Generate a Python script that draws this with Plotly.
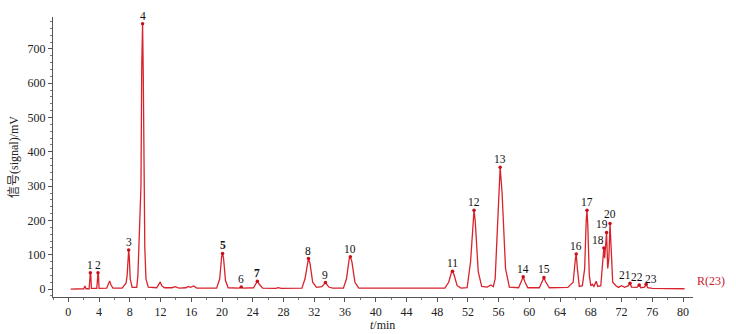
import plotly.graph_objects as go

# Chromatogram trace points (time in min, signal in mV)
time_min = [
    0.3, 2.0, 2.15, 2.3, 2.7, 2.8, 2.86, 2.92, 3.0, 3.7, 3.8, 3.86, 3.92, 4.0,
    5.0, 5.2, 5.37, 5.55, 5.8, 7.0, 7.3, 7.5, 7.65, 7.78, 7.85, 7.93, 8.05, 8.3,
    8.9, 9.05, 9.2, 9.36, 9.45, 9.55, 9.66, 9.75, 9.85, 9.95, 10.1, 10.4,
    11.5, 11.8, 11.96, 12.15, 12.5, 13.5, 13.9, 14.4, 15.3, 15.6, 15.9, 16.3, 16.7,
    19.3, 19.7, 19.95, 20.07, 20.2, 20.45, 20.8, 22.2, 22.5, 22.8,
    24.1, 24.4, 24.6, 24.85, 25.3, 27.0, 27.3, 27.7,
    30.4, 30.8, 31.1, 31.25, 31.45, 31.8, 32.3, 33.0, 33.46, 33.9, 34.4,
    35.8, 36.2, 36.55, 36.7, 36.9, 37.3, 37.8,
    49.0, 49.5, 49.85, 50.0, 50.2, 50.6, 51.1, 51.9, 52.35, 52.7, 52.8, 52.95, 53.35, 53.8,
    54.5, 55.0, 55.3, 55.55, 55.95, 56.2, 56.45, 56.9, 57.4,
    58.6, 59.0, 59.2, 59.4, 59.8, 61.3, 61.7, 61.9, 62.1, 62.6,
    65.0, 65.7, 66.0, 66.1, 66.25, 66.5, 66.9, 67.2, 67.4, 67.5, 67.6, 67.8, 68.0,
    68.2, 68.4, 68.7, 68.9, 69.3, 69.55, 69.7, 69.8, 70.05, 70.2, 70.35, 70.5, 70.65, 70.85,
    71.3, 71.6, 72.0, 72.4, 72.9, 73.1, 73.3, 74.0, 74.3, 74.5, 75.0, 75.2, 75.4, 76.0, 80.2,
]
signal_mv = [
    0, 1, 9, 1, 1, 40, 48, 40, 2, 2, 40, 48, 40, 2,
    3, 15, 24, 12, 3, 3, 10, 17, 40, 100, 114, 95, 30, 5,
    5, 40, 160, 216, 300, 650, 773, 620, 300, 120, 30, 6,
    4, 14, 21, 10, 4, 4, 7, 3, 4, 8, 5, 9, 3,
    3, 30, 95, 104, 90, 25, 4, 3, 6, 3,
    4, 16, 23, 14, 3, 2, 4, 2,
    3, 30, 80, 89, 75, 20, 5, 7, 19, 6, 3,
    3, 30, 88, 94, 80, 20, 3,
    3, 20, 48, 52, 42, 10, 3, 4, 80, 215, 230, 200, 50, 8,
    6, 12, 7, 30, 250, 355, 280, 60, 6,
    4, 25, 36, 22, 4, 4, 25, 34, 22, 4,
    5, 20, 90, 102, 60, 8, 10, 60, 200, 230, 190, 40, 10,
    14, 8, 23, 8, 10, 80, 120, 90, 165, 60, 90, 191, 100, 20,
    9, 5, 10, 5, 10, 17, 6, 5, 12, 4, 6, 14, 4, 2, 1,
]

# Numbered peaks
peak_labels = [str(i) for i in range(1, 24)]
peak_time = [2.86, 3.86, 7.85, 9.66, 20.07, 22.5, 24.6, 31.25, 33.46, 36.7,
             50.0, 52.8, 56.2, 59.2, 61.9, 66.1, 67.5, 69.7, 70.05, 70.5,
             73.1, 74.3, 75.2]
peak_height = [48, 48, 114, 773, 104, 6, 23, 89, 19, 94,
               52, 230, 355, 36, 34, 102, 230, 120, 165, 191,
               17, 12, 14]

x_ticks = list(range(0, 81, 4))
y_ticks = list(range(0, 701, 100))

LINE = "#d8232c"
FONT = "Liberation Serif, Noto Sans CJK SC, serif"

fig = go.Figure()
fig.add_trace(go.Scatter(x=time_min, y=signal_mv, mode="lines",
                         line=dict(color=LINE, width=1.3), hoverinfo="skip",
                         showlegend=False))
fig.add_trace(go.Scatter(x=peak_time, y=peak_height, mode="markers",
                         marker=dict(color="#c8101c", size=3.5),
                         showlegend=False, hoverinfo="skip"))

label_shift = {"18": -6, "19": -5, "21": -5, "22": -2, "23": 5}
label_yshift = {"20": 2, "23": -3}
bold = {"5", "7"}
for lab, t, h in zip(peak_labels, peak_time, peak_height):
    txt = f"<b>{lab}</b>" if lab in bold else lab
    fig.add_annotation(x=t, y=h, text=txt, showarrow=False, yanchor="bottom",
                       xanchor="center", xshift=label_shift.get(lab, 0),
                       yshift=label_yshift.get(lab, 0),
                       font=dict(family=FONT, size=11.5, color="#111111"))

fig.add_annotation(x=1, y=0, xref="paper", yref="y", text="R(23)", showarrow=False,
                   xanchor="left", yanchor="bottom", xshift=2, yshift=-1,
                   font=dict(family=FONT, size=12, color="#c8202a"))
fig.add_annotation(x=0.515, y=0, xref="paper", yref="paper", text="<i>t</i>/min",
                   showarrow=False, xanchor="center", yanchor="top", yshift=-19,
                   font=dict(family=FONT, size=12, color="#222222"))

fig.update_layout(
    width=736, height=334,
    margin=dict(l=53, r=43, t=17, b=37),
    paper_bgcolor="white", plot_bgcolor="white",
    font=dict(family=FONT, size=12, color="#222222"),
)
fig.update_xaxes(range=[-2, 81.3], tickvals=x_ticks, ticks="outside", ticklen=4,
                 tickcolor="#555555", showline=True, linecolor="#555555", linewidth=1,
                 showgrid=False, zeroline=False,
                 minor=dict(dtick=2, tick0=0, ticks="outside", ticklen=2, tickcolor="#777777"),
                 tickfont=dict(family=FONT, size=12, color="#222222"))
fig.update_yaxes(range=[-23, 793], tickvals=y_ticks, ticks="outside", ticklen=4,
                 tickcolor="#555555", showline=True, linecolor="#555555", linewidth=1,
                 showgrid=False, zeroline=False,
                 minor=dict(dtick=20, tick0=0, ticks="outside", ticklen=2, tickcolor="#777777"),
                 tickfont=dict(family=FONT, size=12, color="#222222"),
                 title=dict(text="信号(signal)/mV", standoff=6,
                            font=dict(family=FONT, size=12, color="#222222")))

fig.write_html("out.html", config={"displayModeBar": False},
               post_script="document.body.style.margin='0';")
